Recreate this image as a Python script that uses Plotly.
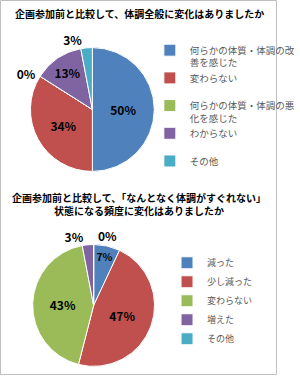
import plotly.graph_objects as go

# Chart 1
title1 = "企画参加前と比較して、体調全般に変化はありましたか"
labels1 = ["何らかの体質・体調の改<br>善を感じた", "変わらない<br> ", "何らかの体質・体調の悪<br>化を感じた", "わからない<br> ", "その他<br> "]
values1 = [50, 34, 0, 13, 3]

# Chart 2
title2 = "企画参加前と比較して、「なんとなく体調がすぐれない」<br>状態になる頻度に変化はありましたか"
labels2 = ["減った", "少し減った", "変わらない", "増えた", "その他"]
values2 = [7, 47, 43, 3, 0]

colors = ["#4F81BD", "#C0504D", "#9BBB59", "#8064A2", "#4BACC6"]
FONT = "Noto Sans CJK JP"

fig = go.Figure()
fig.add_trace(go.Pie(
    labels=labels1, values=values1, sort=False, direction="clockwise", rotation=0,
    marker=dict(colors=colors, line=dict(color="white", width=1)),
    texttemplate="<b>%{percent:.0%}</b>", textposition=["inside", "inside", "outside", "inside", "outside"],
    insidetextorientation="horizontal",
    textfont=dict(family=FONT, size=12, color="black"),
    domain=dict(x=[0.11, 0.557], y=[0.532, 0.884]),
    legend="legend", showlegend=True, hoverinfo="label+percent",
))
fig.add_trace(go.Pie(
    labels=[l + "\u200b" for l in labels2], values=values2, sort=False, direction="clockwise", rotation=0,
    marker=dict(colors=colors, line=dict(color="white", width=1)),
    texttemplate="<b>%{percent:.0%}</b>", textposition=["inside", "inside", "inside", "outside", "outside"],
    insidetextorientation="horizontal",
    textfont=dict(family=FONT, size=12, color="black"),
    domain=dict(x=[0.118, 0.558], y=[0.012, 0.359]),
    legend="legend2", showlegend=True, hoverinfo="label+percent",
))

fig.update_layout(
    width=300, height=380,
    margin=dict(l=0, r=0, t=0, b=0),
    paper_bgcolor="white", plot_bgcolor="white",
    font=dict(family=FONT, color="#404040"),
    legend=dict(x=0.541, y=0.9, xanchor="left", yanchor="top", valign="top",
                font=dict(size=9.5, color="#595959", family=FONT), bgcolor="rgba(0,0,0,0)",
                itemclick=False, itemwidth=30),
    legend2=dict(x=0.603, y=0.338, xanchor="left", yanchor="top",
                 font=dict(size=9, color="#595959", family=FONT), bgcolor="rgba(0,0,0,0)",
                 itemclick=False, itemwidth=30),
    annotations=[
        dict(text="<b>" + title1 + "</b>", x=0.505, y=1 - 14 / 380, xref="paper", yref="paper",
             showarrow=False, font=dict(size=10, color="black", family=FONT), xanchor="center", yanchor="middle"),
        dict(text="<b>" + title2 + "</b>", x=0.5, y=1 - 207 / 380, xref="paper", yref="paper",
             showarrow=False, font=dict(size=10, color="black", family=FONT), xanchor="center", yanchor="middle"),
    ],
    shapes=[dict(type="rect", xref="paper", yref="paper", x0=0.0017, x1=0.9983, y0=0.0013, y1=0.9987,
                 line=dict(color="#BFBFBF", width=1))],
)

fig.write_html("out.html")
